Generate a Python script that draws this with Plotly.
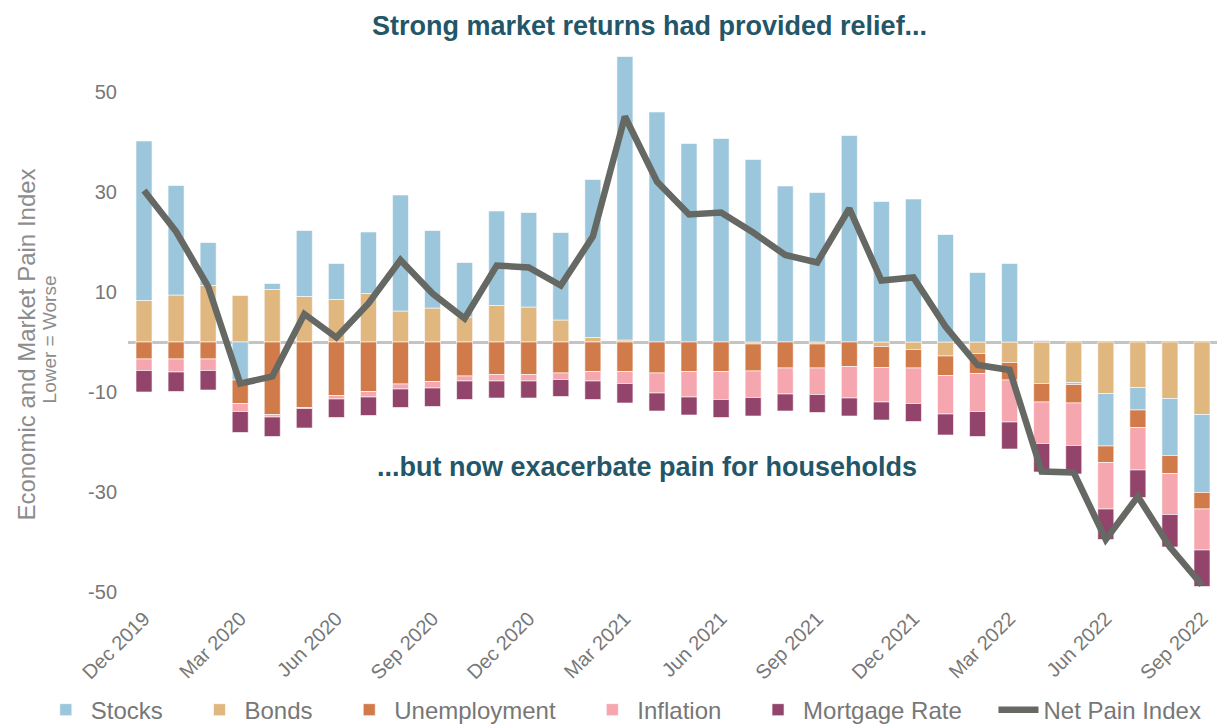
import plotly.graph_objects as go

months = ["Dec 2019", "Jan 2020", "Feb 2020", "Mar 2020", "Apr 2020", "May 2020", "Jun 2020",
          "Jul 2020", "Aug 2020", "Sep 2020", "Oct 2020", "Nov 2020", "Dec 2020", "Jan 2021",
          "Feb 2021", "Mar 2021", "Apr 2021", "May 2021", "Jun 2021", "Jul 2021", "Aug 2021",
          "Sep 2021", "Oct 2021", "Nov 2021", "Dec 2021", "Jan 2022", "Feb 2022", "Mar 2022",
          "Apr 2022", "May 2022", "Jun 2022", "Jul 2022", "Aug 2022", "Sep 2022"]

stocks = [31.9, 21.9, 8.6, -7.6, 1.2, 13.2, 7.2, 12.3, 23.2, 15.5, 10.9, 18.9, 18.9, 17.5,
          31.6, 56.7, 46.0, 39.7, 40.7, 36.5, 31.2, 29.9, 41.3, 28.1, 28.6, 21.5, 13.9, 15.7,
          0.3, -0.4, -10.5, -4.5, -11.4, -15.6]
bonds = [8.3, 9.4, 11.3, 9.3, 10.5, 9.1, 8.5, 9.7, 6.2, 6.8, 5.0, 7.3, 7.0, 4.4,
         0.9, 0.4, 0.0, 0.0, 0.0, -0.4, 0.0, -0.4, 0.0, -0.9, -1.5, -2.8, -2.3, -4.1,
         -8.3, -8.1, -10.3, -9.1, -11.3, -14.5]
unemployment = [-3.4, -3.4, -3.4, -4.7, -14.5, -13.1, -10.7, -9.9, -8.4, -7.9, -6.8, -6.5, -6.5, -6.2,
                -5.9, -5.9, -6.2, -5.9, -5.9, -5.4, -5.2, -4.8, -4.9, -4.2, -3.7, -3.9, -4.0, -3.5,
                -3.7, -3.7, -3.3, -3.5, -3.6, -3.3]
inflation = [-2.3, -2.6, -2.3, -1.6, -0.5, -0.2, -0.7, -1.1, -1.0, -1.3, -1.0, -1.3, -1.3, -1.3,
             -1.9, -2.4, -4.0, -5.1, -5.6, -5.3, -5.2, -5.3, -6.3, -6.9, -7.1, -7.7, -7.6, -8.4,
             -8.3, -8.5, -9.3, -8.5, -8.2, -8.2]
mortgage = [-4.3, -3.9, -3.9, -4.2, -3.9, -3.9, -3.7, -3.7, -3.7, -3.7, -3.7, -3.4, -3.4, -3.4,
            -3.7, -3.9, -3.6, -3.6, -3.6, -3.7, -3.4, -3.6, -3.6, -3.6, -3.6, -4.2, -5.0, -5.4,
            -5.7, -5.7, -6.1, -5.5, -6.5, -7.3]
net_pain = [30.3, 22.1, 11.1, -8.3, -6.9, 5.6, 0.9, 7.7, 16.4, 9.7, 4.7, 15.3, 14.9, 11.3,
            21.1, 45.1, 32.1, 25.5, 25.9, 21.9, 17.4, 15.9, 26.7, 12.3, 12.9, 3.1, -4.6, -5.6,
            -25.9, -26.1, -39.5, -30.9, -41.0, -48.6]

tick_labels = ["Dec 2019", "Mar 2020", "Jun 2020", "Sep 2020", "Dec 2020", "Mar 2021",
               "Jun 2021", "Sep 2021", "Dec 2021", "Mar 2022", "Jun 2022", "Sep 2022"]
y_ticks = [50, 30, 10, -10, -30, -50]
y_tick_text = ["50", "30", "10", "-10", "-30", "-50"]

FONT = "Liberation Sans, Arial, sans-serif"
GREY = "#777777"
TITLE_BLUE = "#225668"
PAD = "\u00a0\u00a0\u00a0\u00a0"

# stacking order (bonds nearest zero), legend order set by legendrank
bar_series = [
    ("Bonds", bonds, "#E1B780", 2),
    ("Stocks", stocks, "#9BC6DB", 1),
    ("Unemployment", unemployment, "#D27B4A", 3),
    ("Inflation", inflation, "#F6A6AF", 4),
    ("Mortgage Rate", mortgage, "#93446B", 5),
]

fig = go.Figure()
for name, vals, color, rank in bar_series:
    fig.add_trace(go.Bar(
        x=months, y=vals, name=name + PAD, legendrank=rank,
        marker=dict(color=color, line=dict(color="white", width=0.6)),
    ))

fig.add_trace(go.Scatter(
    x=months, y=net_pain, name="Net Pain Index", legendrank=6, mode="lines",
    line=dict(color="#666863", width=6.5),
))

fig.update_layout(
    width=1217, height=717,
    barmode="relative", bargap=0.5,
    plot_bgcolor="white", paper_bgcolor="white",
    margin=dict(l=120, r=7, t=34, b=123, autoexpand=False),
    font=dict(family=FONT, color=GREY, size=18),
    showlegend=True,
    legend=dict(orientation="h", x=-0.08, xanchor="left", y=-0.193, yanchor="middle",
                font=dict(size=24, color=GREY), traceorder="normal", itemwidth=40,
                tracegroupgap=0),
    xaxis=dict(
        type="category", categoryorder="array", categoryarray=months,
        tickmode="array", tickvals=tick_labels, ticktext=tick_labels,
        tickangle=-45, tickfont=dict(size=20, color=GREY),
        showgrid=False, showline=False, ticks="", range=[-0.5, 33.5],
        automargin=False,
    ),
    yaxis=dict(
        range=[-52, 60], tickmode="array", tickvals=y_ticks, ticktext=y_tick_text,
        tickfont=dict(size=20, color=GREY), showgrid=False, ticks="",
        zeroline=True, zerolinecolor="#C4C4C4", zerolinewidth=2.5,
        ticklabelstandoff=10, automargin=False,
    ),
)

fig.add_annotation(
    text="<b>Strong market returns had provided relief...</b>",
    xref="paper", yref="paper", x=0.478, y=1.0589, xanchor="center", yanchor="top",
    showarrow=False, font=dict(size=27, color=TITLE_BLUE, family=FONT),
)
fig.add_annotation(
    text="<b>...but now exacerbate pain for households</b>",
    xref="x", yref="y", x=15.7, y=-25, xanchor="center", yanchor="middle",
    showarrow=False, font=dict(size=27, color=TITLE_BLUE, family=FONT),
)
fig.add_annotation(
    text="Economic and Market Pain Index",
    xref="paper", yref="paper", x=-0.093, y=0.459, xanchor="center", yanchor="middle",
    textangle=-90, showarrow=False, font=dict(size=24, color="#8C8C8C", family=FONT),
)
fig.add_annotation(
    text="Lower = Worse",
    xref="paper", yref="paper", x=-0.072, y=0.468, xanchor="center", yanchor="middle",
    textangle=-90, showarrow=False, font=dict(size=19, color="#8C8C8C", family=FONT),
)

fig.write_html("out.html")
